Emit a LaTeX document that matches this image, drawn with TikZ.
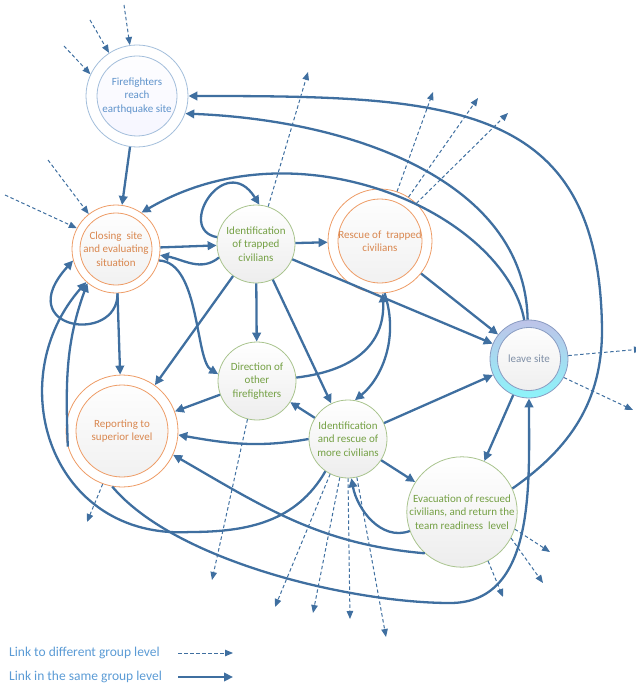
\documentclass[tikz,border=0pt]{standalone}
\usepackage{fontspec}
\setmainfont{Carlito}
\usetikzlibrary{arrows.meta}
\definecolor{linkblue}{HTML}{3F6FA0}
\definecolor{ffline}{HTML}{A3BEDB}
\definecolor{fftext}{HTML}{5F93CB}
\definecolor{orline}{HTML}{EE9C66}
\definecolor{ortext}{HTML}{D9874F}
\definecolor{grline}{HTML}{A9C48E}
\definecolor{grtext}{HTML}{74A044}
\definecolor{lsline}{HTML}{8A9CC2}
\definecolor{lstop}{HTML}{BEC3E8}
\definecolor{lsbottom}{HTML}{8CF4FA}
\definecolor{lstext}{HTML}{7F8FA6}
\definecolor{legendblue}{HTML}{5B9BD5}
\tikzset{
  state/.style={circle, line width=0.8pt, align=center, inner sep=0pt,
    font=\fontsize{11}{13.5}\selectfont},
  greenstate/.style={state, draw=grline, text=grtext, minimum size=#1,
    top color=white, bottom color=black!7},
  orangestate/.style 2 args={state, draw=orline, text=ortext, fill=white, minimum size=#1,
    path picture={\shadedraw[top color=white, bottom color=black!6, draw=orline, line width=0.8pt]
      (path picture bounding box.center) circle (#2);}},
  ffstate/.style 2 args={state, draw=ffline, text=fftext, fill=white, minimum size=#1,
    path picture={\shadedraw[top color=white, bottom color=blue!4, draw=ffline, line width=0.8pt]
      (path picture bounding box.center) circle (#2);}},
  leavestate/.style 2 args={state, draw=lsline, text=lstext, minimum size=#1,
    top color=lstop, bottom color=lsbottom,
    path picture={\shadedraw[top color=white, bottom color=black!7, draw=lsline, line width=0.8pt]
      (path picture bounding box.center) circle (#2);}},
  samelink/.style={draw=linkblue, line width=2.3pt, -{Triangle[length=9pt,width=8.5pt]}},
  otherlink/.style={draw=linkblue, line width=1pt, dash pattern=on 3.5pt off 2.5pt,
    -{Triangle[length=8pt,width=6.5pt]}},
  legendtext/.style={text=legendblue, font=\fontsize{13.5}{15}\selectfont, inner sep=0pt}
}
\begin{document}
\begin{tikzpicture}[x=1pt, y=1pt]
  \useasboundingbox (0,0) rectangle (636,-687);
  % states
  \node[ffstate={102pt}{40pt}] (ff) at (137,-96) {Firefighters\\reach\\earthquake site};
  \node[orangestate={88pt}{36pt}] (cs) at (116,-249) {Closing\ \ site\\and evaluating\\situation};
  \node[greenstate=78pt] (it) at (256,-244) {Identification\\of trapped\\civilians};
  \node[orangestate={104pt}{42pt}] (rt) at (380,-241) {Rescue of\ \ trapped\\civilians};
  \node[leavestate={78pt}{31.5pt}] (ls) at (529,-359) {leave site};
  \node[greenstate=78pt] (do) at (257,-381) {Direction of\\other\\firefighters};
  \node[orangestate={112pt}{46pt}] (rp) at (122,-431) {Reporting to\\superior level};
  \node[greenstate=78pt] (ir) at (348,-439) {Identification\\and rescue of\\more civilians};
  \node[greenstate=110pt] (ev) at (462,-512) {Evacuation of rescued\\civilians, and return the\\team readiness\ \ level};

  % links in the same group level
  \draw[samelink] (ff) -- (cs);
  \draw[samelink] (cs) -- (it);
  \draw[samelink] (it) -- (rt);
  \draw[samelink] (it) -- (do);
  \draw[samelink] (it) -- (rp);
  \draw[samelink] (it) -- (ir);
  \draw[samelink] (it) -- (ls);
  \draw[samelink] (rt) -- (ls);
  \draw[samelink] (ir) -- (ls);
  \draw[samelink] (ir) -- (ev);
  \draw[samelink] (ls) -- (ev);
  \draw[samelink] (ir) -- (do);
  \draw[samelink] (do) -- (rp);
  \draw[samelink] (cs) -- (rp);
  \draw[samelink] (ls.92) .. controls (525,-180) and (350,-120) .. (ff.-20);
  \draw[samelink] (ls.97) .. controls (505,-215) and (300,-120) .. (cs.55);
  \draw[samelink] (ev.25) to[out=35,in=-90] (602,-330) .. controls (600,-100) and (450,-96) .. (ff.0);
  \draw[samelink] (rp.-100) to[out=-50,in=180,looseness=0.7] (450,-603) to[out=0,in=-90] (ls.-90);
  \draw[samelink] (ev.228) to[out=175,in=-30] (rp.-25);
  \draw[samelink] (ev.200) to[out=200,in=-80] (ir.-85);
  \draw[samelink] (ir.-125) to[out=-120,in=0] (190,-532) .. controls (50,-540) and (0,-380) .. (cs.-132);
  \draw[samelink] (rp.196) to[out=92,in=-110] (cs.-130);
  \draw[samelink] (cs.-88) .. controls (118,-345) and (10,-330) .. (cs.195);
  \draw[samelink] (it.170) .. controls (175,-230) and (225,-150) .. (it.85);
  \draw[samelink] (it.200) to[out=220,in=-10] (cs.-8);
  \draw[samelink] (cs.-15) .. controls (200,-262) and (195,-360) .. (do.170);
  \draw[samelink] (do.5) .. controls (360,-370) and (385,-340) .. (rt.-87);
  \draw[samelink] (rt.-85) .. controls (400,-340) and (380,-380) .. (ir.80);
  \draw[samelink] (ir.180) to[out=190,in=-10] (rp.-4);

  % links to a different group level
  \coordinate (ffa) at (124,-5);
  \coordinate (ffb) at (90,-20);
  \coordinate (ffc) at (64,-46);
  \draw[otherlink] (ffa) -- (ff.98);
  \draw[otherlink] (ffb) -- (ff.123);
  \draw[otherlink] (ffc) -- (ff.155);
  \coordinate (csa) at (48,-160);
  \coordinate (csb) at (5,-195);
  \draw[otherlink] (csa) -- (cs.128);
  \draw[otherlink] (csb) -- (cs.152);
  \coordinate (ita) at (308,-72);
  \draw[otherlink] (it.72) -- (ita);
  \coordinate (rta) at (433,-92);
  \coordinate (rtb) at (478,-98);
  \coordinate (rtc) at (508,-113);
  \draw[otherlink] (rt.71) -- (rta);
  \draw[otherlink] (rt.57) -- (rtb);
  \draw[otherlink] (rt.46) -- (rtc);
  \coordinate (lsa) at (642,-349);
  \coordinate (lsb) at (633,-410);
  \draw[otherlink] (ls.5) -- (lsa);
  \draw[otherlink] (ls.-28) -- (lsb);
  \coordinate (rpa) at (87,-522);
  \draw[otherlink] (rp.-110) -- (rpa);
  \coordinate (doa) at (212,-580);
  \draw[otherlink] (do.-104) -- (doa);
  \coordinate (ira) at (275,-607);
  \coordinate (irb) at (313,-613);
  \coordinate (irc) at (350,-619);
  \coordinate (ird) at (386,-637);
  \draw[otherlink] (ir.-117) -- (ira);
  \draw[otherlink] (ir.-102) -- (irb);
  \draw[otherlink] (ir.-90) -- (irc);
  \draw[otherlink] (ir.-77) -- (ird);
  \coordinate (eva) at (550,-552);
  \coordinate (evb) at (543,-583);
  \coordinate (evc) at (503,-597);
  \draw[otherlink] (ev.-18) -- (eva);
  \draw[otherlink] (ev.-28) -- (evb);
  \draw[otherlink] (ev.-62) -- (evc);

  % legend
  \node[legendtext, anchor=west] (lgother) at (9,-653) {Link to different group level};
  \node[legendtext, anchor=west] (lgsame) at (9,-677) {Link in the same group level};
  \coordinate (lgothera) at (178,-653);
  \coordinate (lgotherb) at (233,-653);
  \coordinate (lgsamea) at (178,-677);
  \coordinate (lgsameb) at (233,-677);
  \draw[otherlink] (lgothera) -- (lgotherb);
  \draw[samelink] (lgsamea) -- (lgsameb);
\end{tikzpicture}
\end{document}
